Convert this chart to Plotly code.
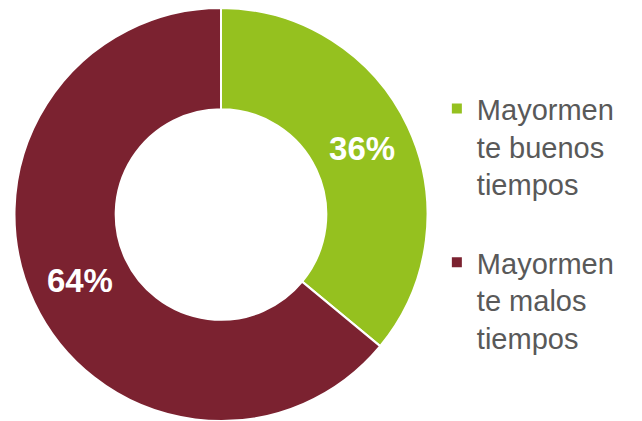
import plotly.graph_objects as go

labels = ["Mayormen<br>te buenos<br>tiempos<br><span style='font-size:34px'> </span>", "Mayormen<br>te malos<br>tiempos"]
values = [36, 64]
colors = ["#95C11F", "#7B2230"]

fig = go.Figure(go.Pie(
    labels=labels,
    values=values,
    hole=0.51,
    sort=False,
    direction="clockwise",
    rotation=0,
    marker=dict(colors=colors, line=dict(color="white", width=2)),
    textinfo="percent",
    texttemplate="%{percent:.0%}",
    textposition="inside",
    insidetextorientation="horizontal",
    textfont=dict(family="Liberation Sans, Arial, sans-serif", size=33, color="white", weight="bold"),
    domain=dict(x=[6/642, 420/642], y=[0, 1]),
    hoverinfo="label+percent",
))

fig.update_layout(
    width=642, height=421,
    margin=dict(l=0, r=0, t=0, b=8),
    paper_bgcolor="white",
    plot_bgcolor="white",
    showlegend=True,
    legend=dict(
        x=0.668, xanchor="left",
        y=0.818, yanchor="top",
        valign="top",
        font=dict(family="Liberation Sans, Arial, sans-serif", size=29, color="#595959"),
        bgcolor="rgba(0,0,0,0)",
    ),
    uniformtext=dict(minsize=10),
)

fig.write_html("out.html")
